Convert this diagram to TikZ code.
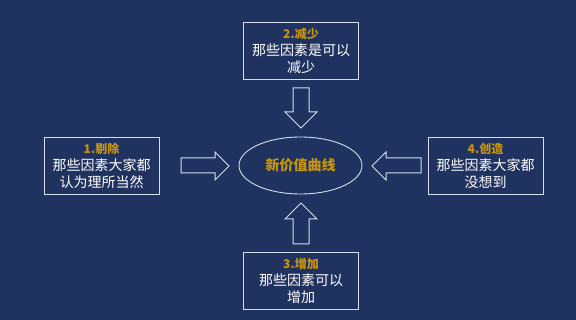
\documentclass[tikz,border=0pt]{standalone}
\usepackage{fontspec}
\setmainfont{Noto Sans CJK SC}
\usetikzlibrary{shapes.geometric}
\definecolor{bgc}{RGB}{31,50,96}
\definecolor{goldc}{RGB}{200,150,12}
\definecolor{linec}{RGB}{215,222,235}
\tikzset{
  infobox/.style={draw=linec, line width=0.9pt, minimum width=115pt, minimum height=57pt, inner sep=0pt, align=center, text=white, font=\fontsize{14}{17}\selectfont},
  blockarrow/.style={draw=linec, line width=1pt, line join=miter},
}
\newcommand{\ttl}[1]{{\fontsize{12}{17}\selectfont\bfseries\color{goldc}#1}}
\begin{document}
\begin{tikzpicture}[x=1pt,y=-1pt]
\fill[bgc] (0,0) rectangle (576,320);
\useasboundingbox (0,0) rectangle (576,320);
\node[infobox] (top) at (301,51) {\ttl{2.减少}\\那些因素是可以\\减少};
\node[infobox] (left) at (101.5,166) {\ttl{1.剔除}\\那些因素大家都\\认为理所当然};
\node[infobox] (right) at (485.5,165.5) {\ttl{4.创造}\\那些因素大家都\\没想到};
\node[infobox] (bottom) at (301,280.5) {\ttl{3.增加}\\那些因素可以\\增加};
\node[ellipse, draw=linec, line width=0.9pt, minimum width=123pt, minimum height=57pt, inner sep=0pt, text=goldc, font=\fontsize{14}{17}\selectfont\bfseries] (center) at (300.5,165.5) {新价值曲线};
% left arrow (pointing right)
\draw[blockarrow] (181,158) -- (215,158) -- (215,152) -- (229,166) -- (215,180) -- (215,173) -- (181,173) -- cycle;
% right arrow (pointing left)
\draw[blockarrow] (421,158) -- (386,158) -- (386,152) -- (372,166) -- (386,180) -- (386,173) -- (421,173) -- cycle;
% top arrow (pointing down)
\draw[blockarrow] (293,88) -- (293,112) -- (285,112) -- (301,128) -- (317,112) -- (309,112) -- (309,88) -- cycle;
% bottom arrow (pointing up)
\draw[blockarrow] (293,244) -- (293,219) -- (285,219) -- (301,203) -- (317,219) -- (309,219) -- (309,244) -- cycle;
\end{tikzpicture}
\end{document}
